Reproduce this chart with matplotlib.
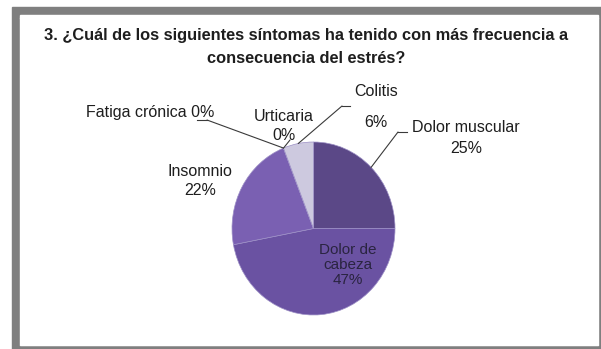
import numpy as np
import matplotlib.pyplot as plt
from matplotlib.patches import Rectangle
from matplotlib.lines import Line2D

# Respuestas a la pregunta 3 (porcentaje de encuestados)
sintomas = ["Dolor muscular", "Dolor de cabeza", "Insomnio",
            "Fatiga crónica", "Urticaria", "Colitis"]
porcentajes = [25, 47, 22, 0, 0, 6]
colores = ["#5b4887", "#6a52a2", "#7a60b2", "#7a60b2", "#b9b2d6", "#cdc9df"]

titulo = ("3. ¿Cuál de los siguientes síntomas ha tenido con más frecuencia a\n"
          "consecuencia del estrés?")

W, H = 601, 349
plt.rcParams["font.family"] = ["Liberation Sans", "DejaVu Sans"]


def fx(x):
    return x / W


def fy(y):
    return 1 - y / H


fig = plt.figure(figsize=(W / 100, H / 100), dpi=100, facecolor="white")

# marco gris alrededor del gráfico
fig.patches.append(Rectangle((fx(12), fy(349)), fx(589), 342 / H,
                             transform=fig.transFigure, color="#7f7f7f", zorder=-2))
fig.patches.append(Rectangle((fx(20), fy(345)), fx(578), 330 / H,
                             transform=fig.transFigure, color="white", zorder=-1))
fig.lines.append(Line2D([fx(20), fx(598)], [fy(18), fy(18)],
                        transform=fig.transFigure, color="#cfcfcf", lw=1, zorder=-1))
fig.lines.append(Line2D([fx(20), fx(598)], [fy(344.5), fy(344.5)],
                        transform=fig.transFigure, color="#a8a8a8", lw=1, zorder=-1))

fig.text(fx(306), fy(47), titulo, ha="center", va="center", fontsize=11.8,
         fontweight="bold", color="#1e1e1e", linespacing=1.6)

# pastel (un poco más alto que ancho)
ax = fig.add_axes([fx(232), fy(315), fx(163), 173 / H])
ax.set_zorder(2)
wedges, _ = ax.pie(porcentajes, colors=colores, startangle=90, counterclock=False,
                   wedgeprops=dict(edgecolor="#9d90c6", linewidth=0.5))
ax.set_aspect("auto")
ax.set_xlim(-1, 1)
ax.set_ylim(-1, 1)

total = sum(porcentajes)
etiquetas = {}
for nombre, v in zip(sintomas, porcentajes):
    pct = f"{round(v / total * 100)}%"
    etiquetas[nombre] = (nombre, pct)

color_txt = "#1e1e1e"
fs = 11.5
# posición de cada etiqueta: (x, y, separación de líneas)
pos = {
    "Dolor muscular": (466, 138, 1.45),
    "Colitis": (376, 107, 2.4),
    "Urticaria": (284, 126, 1.3),
    "Insomnio": (200, 181, 1.3),
}
for nombre, (x, y, ls) in pos.items():
    n, p = etiquetas[nombre]
    fig.text(fx(x), fy(y), f"{n}\n{p}", ha="center", va="center", fontsize=fs,
             color=color_txt, linespacing=ls, zorder=3)

n, p = etiquetas["Fatiga crónica"]
fig.text(fx(150), fy(113), f"{n} {p}", ha="center", va="center", fontsize=fs,
         color=color_txt, zorder=3)

n, p = etiquetas["Dolor de cabeza"]
fig.text(fx(348), fy(265), "Dolor de\ncabeza\n" + p, ha="center", va="center",
         fontsize=fs - 0.5, color="#2a2440", linespacing=1.1, zorder=3)

# líneas guía desde el borde de cada porción
guias = {
    "Dolor muscular": [(398, 132), (407, 132)],
    "Colitis": [(342, 106), (350, 106)],
    "Fatiga crónica": [(207, 120), (197, 120)],
    "Urticaria": [(290, 140)],
}
for w, nombre in zip(wedges, sintomas):
    if nombre not in guias:
        continue
    ang = np.deg2rad((w.theta1 + w.theta2) / 2)
    puntos = guias[nombre]
    ax.annotate("", xy=(np.cos(ang), np.sin(ang)), xycoords="data",
                xytext=(fx(puntos[0][0]), fy(puntos[0][1])),
                textcoords="figure fraction", annotation_clip=False,
                arrowprops=dict(arrowstyle="-", color="#3a3a3a", lw=0.8,
                                shrinkA=0, shrinkB=0))
    if len(puntos) > 1:
        fig.lines.append(Line2D([fx(puntos[0][0]), fx(puntos[1][0])],
                                [fy(puntos[0][1]), fy(puntos[1][1])],
                                transform=fig.transFigure, color="#3a3a3a", lw=0.8))

fig.savefig("out.png", dpi=100, facecolor="white")
